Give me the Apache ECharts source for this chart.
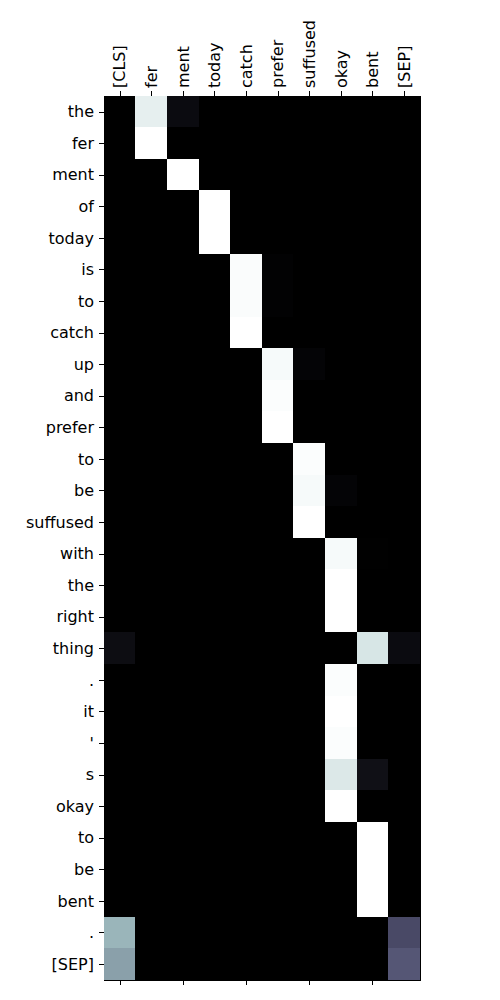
<!DOCTYPE html>
<html><head><meta charset="utf-8">
<script src="https://cdn.jsdelivr.net/npm/echarts@6/dist/echarts.min.js"></script>
<style>html,body{margin:0;padding:0;background:#fff}#c{width:500px;height:1000px}#c svg path{shape-rendering:crispEdges}</style>
</head><body><div id="c"></div>
<script>
const xLabels = ['[CLS]','fer','ment','today','catch','prefer','suffused','okay','bent','[SEP]'];
const yLabels = ['the','fer','ment','of','today','is','to','catch','up','and','prefer','to','be','suffused','with','the','right','thing','.','it',"'",'s','okay','to','be','bent','.','[SEP]'];
// nonzero cells: [row, col, value]
const cells = [
  [0,1,0.93],[0,2,0.05],
  [1,1,1.0],
  [2,2,1.0],
  [3,3,1.0],
  [4,3,1.0],
  [5,4,0.985],[5,5,0.01],
  [6,4,0.985],[6,5,0.01],
  [7,4,1.0],
  [8,5,0.975],[8,6,0.02],
  [9,5,0.99],
  [10,5,1.0],
  [11,6,0.99],
  [12,6,0.975],[12,7,0.02],
  [13,6,1.0],
  [14,7,0.975],[14,8,0.005],
  [15,7,1.0],
  [16,7,1.0],
  [17,0,0.06],[17,8,0.885],[17,9,0.05],
  [18,7,0.99],
  [19,7,1.0],
  [20,7,0.99],
  [21,7,0.9],[21,8,0.07],
  [22,7,1.0],
  [23,8,1.0],
  [24,8,1.0],
  [25,8,1.0],
  [26,0,0.69],[26,9,0.33],
  [27,0,0.62],[27,9,0.38]
];

// matplotlib "bone" colormap
function interp(seg, x){
  for(let i=1;i<seg.length;i++){
    if(x<=seg[i][0]){const a=seg[i-1],b=seg[i];return a[1]+(b[1]-a[1])*(x-a[0])/(b[0]-a[0]);}
  }
  return seg[seg.length-1][1];
}
const R=[[0,0],[0.746032,0.652778],[1,1]];
const G=[[0,0],[0.365079,0.319444],[0.746032,0.777778],[1,1]];
const B=[[0,0],[0.365079,0.444444],[1,1]];
const bone=[];
for(let i=0;i<=128;i++){
  const x=i/128;
  const c=[interp(R,x),interp(G,x),interp(B,x)].map(v=>Math.round(v*255));
  bone.push('rgb('+c.join(',')+')');
}

const data=[];
const lookup={};
cells.forEach(c=>{lookup[c[0]+','+c[1]]=c[2];});
for(let r=0;r<yLabels.length;r++){
  for(let c=0;c<xLabels.length;c++){
    const v=lookup[r+','+c]!==undefined?lookup[r+','+c]:0;
    data.push([c,r,v]);
  }
}

const font={fontFamily:'DejaVu Sans',fontSize:16,color:'#000'};
const chart=echarts.init(document.getElementById('c'),null,{renderer:'svg'});
chart.setOption({
  animation:false,
  backgroundColor:'#fff',
  grid:{left:104,top:96,width:316,height:884,show:true,borderColor:'#000',borderWidth:1,backgroundColor:'#000',z:0},
  xAxis:[{
    type:'category',data:xLabels,position:'top',
    axisLine:{show:false},
    axisTick:{show:true,alignWithLabel:true,length:5,lineStyle:{color:'#000',width:1}},
    axisLabel:Object.assign({rotate:-90,interval:0,margin:8},font),
    splitLine:{show:false},splitArea:{show:false}
  },{
    type:'category',data:xLabels,position:'bottom',
    axisLine:{show:false},
    axisTick:{show:true,alignWithLabel:true,length:5,lineStyle:{color:'#000',width:1}},
    axisLabel:{show:false},
    splitLine:{show:false}
  }],
  yAxis:{
    type:'category',data:yLabels,inverse:true,
    axisLine:{show:false},
    axisTick:{show:true,alignWithLabel:true,length:5,lineStyle:{color:'#000',width:1}},
    axisLabel:Object.assign({interval:0,margin:10},font),
    splitLine:{show:false}
  },
  visualMap:{show:false,min:0,max:1,dimension:2,inRange:{color:bone}},
  series:[{
    type:'heatmap',data:data,xAxisIndex:0,yAxisIndex:0,
    itemStyle:{borderWidth:0},
    emphasis:{disabled:true}
  }]
});
</script></body></html>
